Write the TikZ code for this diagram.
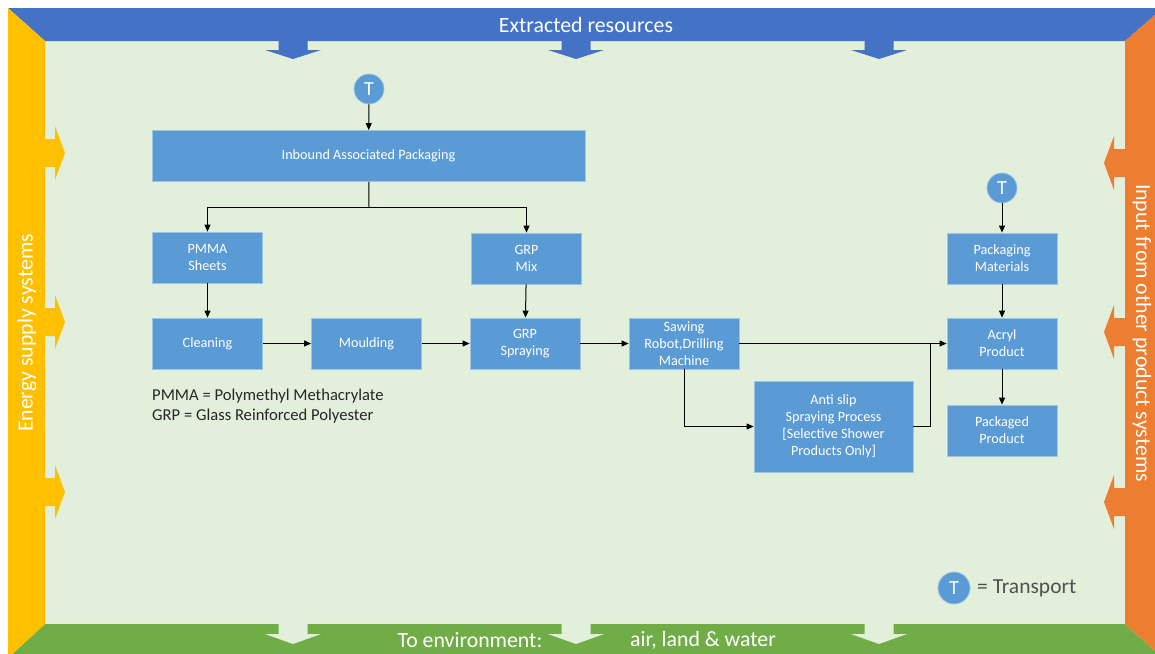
\documentclass[tikz,border=0pt]{standalone}
\usepackage{fontspec}
\setmainfont{Carlito}
\usetikzlibrary{arrows.meta}
\definecolor{bandBlue}{RGB}{68,114,196}
\definecolor{bandYellow}{RGB}{255,192,0}
\definecolor{bandOrange}{RGB}{237,125,49}
\definecolor{bandGreen}{RGB}{112,173,71}
\definecolor{paleGreen}{RGB}{226,239,218}
\definecolor{boxBlue}{RGB}{91,155,213}
\definecolor{boxEdge}{RGB}{157,195,230}
\definecolor{legendGray}{RGB}{38,38,38}

\begin{document}
\begin{tikzpicture}[x=1pt, y=-1pt,
    stepbox/.style={draw=boxEdge, line width=0.8pt, fill=boxBlue, text=white, align=center,
        inner sep=0pt, minimum height=51pt, minimum width=110pt, font=\fontsize{14.2}{17}\selectfont},
    tnode/.style={circle, draw=boxEdge, line width=0.8pt, fill=boxBlue, text=white,
        minimum size=30pt, inner sep=0pt, font=\fontsize{20}{20}\selectfont},
    flow/.style={-{Triangle[length=7pt,width=6pt]}, line width=1pt},
    bandtext/.style={text=white, font=\fontsize{21.8}{22}\selectfont}]
    \useasboundingbox (0,0) rectangle (1155,653);
    \clip (0,0) rectangle (1155,653);
    % frame
    \fill[paleGreen] (45,41) rectangle (1125,624);
    \fill[bandGreen] (8,658) -- (45,624) -- (1125,624) -- (1163,658) -- cycle;
    \fill[bandBlue] (8,8) -- (1163,8) -- (1125,41) -- (45,41) -- cycle;
    \fill[bandYellow] (8,8) -- (45,41) -- (45,624) -- (8,658) -- cycle;
    \fill[bandOrange] (1163,8) -- (1163,658) -- (1125,624) -- (1125,41) -- cycle;
    \foreach \x in {293,576,879} {
        \fill[bandBlue] (\x-14.5,40) -- (\x-14.5,50) -- (\x-28,50) -- (\x,59)
            -- (\x+28,50) -- (\x+14.5,50) -- (\x+14.5,40) -- cycle;
        \fill[paleGreen] (\x-14.5,623) -- (\x-14.5,634) -- (\x-28,634) -- (\x,644)
            -- (\x+28,634) -- (\x+14.5,634) -- (\x+14.5,623) -- cycle;
    }
    \foreach \y in {153,322,492} {
        \fill[bandYellow] (44,\y-14) -- (55,\y-14) -- (55,\y-27) -- (65,\y)
            -- (55,\y+27) -- (55,\y+14) -- (44,\y+14) -- cycle;
        \fill[bandOrange] (1126,\y-4) -- (1114,\y-4) -- (1114,\y-17) -- (1104,\y+10)
            -- (1114,\y+37) -- (1114,\y+24) -- (1126,\y+24) -- cycle;
    }
    \node[bandtext] (extracted) at (586,25) {Extracted resources};
    \node[bandtext] (toenv) at (470,640) {To environment:};
    \node[bandtext] (airland) at (703,640) {air, land \& water};
    \node[bandtext, rotate=90] (energy) at (27,333) {Energy supply systems};
    \node[bandtext, rotate=-90] (input) at (1142,333) {Input from other product systems};

    % process boxes
    \node[tnode] (t1) at (369,89) {T};
    \node[stepbox, minimum width=433pt] (inbound) at (368.5,156) {Inbound Associated Packaging};
    \node[stepbox] (pmma) at (207.5,257.5) {PMMA\\Sheets};
    \node[stepbox] (grpmix) at (526.5,258.5) {GRP\\Mix};
    \node[stepbox] (clean) at (207.5,343.5) {Cleaning};
    \node[stepbox] (mould) at (366.5,343.5) {Moulding};
    \node[stepbox] (spray) at (525,343.5) {GRP\\Spraying};
    \node[stepbox] (saw) at (684,343.5) {Sawing\\Robot,Drilling\\Machine};
    \node[stepbox, minimum width=159pt, minimum height=91pt] (anti) at (833.5,426.5)
        {Anti slip\\Spraying Process\\{[}Selective Shower\\Products Only{]}};
    \node[tnode] (t2) at (1002,188) {T};
    \node[stepbox] (pack) at (1002,258.5) {Packaging\\Materials};
    \node[stepbox] (acryl) at (1002,343.5) {Acryl\\Product};
    \node[stepbox] (packed) at (1002,430.5) {Packaged\\Product};

    \coordinate (split) at (369,207);
    \coordinate (merge) at (930,343.5);
    \draw[flow] (t1) -- (inbound);
    \draw[line width=1pt] (inbound) -- (split);
    \draw[flow] (split) -| (pmma);
    \draw[flow] (split) -| (grpmix);
    \draw[flow] (pmma) -- (clean);
    \draw[flow] (grpmix) -- (spray);
    \draw[flow] (clean) -- (mould);
    \draw[flow] (mould) -- (spray);
    \draw[flow] (spray) -- (saw);
    \draw[flow] (saw) -- (acryl);
    \draw[flow] (saw) |- (anti);
    \draw[line width=1pt] (anti.east) -| (merge);
    \draw[flow] (t2) -- (pack);
    \draw[flow] (pack) -- (acryl);
    \draw[flow] (acryl) -- (packed);

    % legend
    \node[anchor=west, align=left, text=legendGray, inner sep=0pt,
        font=\fontsize{16.6}{20}\selectfont] (abbrev) at (152,406)
        {PMMA = Polymethyl Methacrylate\\GRP = Glass Reinforced Polyester};
    \node[tnode, minimum size=32pt] (t3) at (954,588) {T};
    \node[anchor=west, text=legendGray!80, inner sep=0pt, font=\fontsize{21.5}{22}\selectfont]
        (transport) at (977,588) {= Transport};
\end{tikzpicture}
\end{document}
